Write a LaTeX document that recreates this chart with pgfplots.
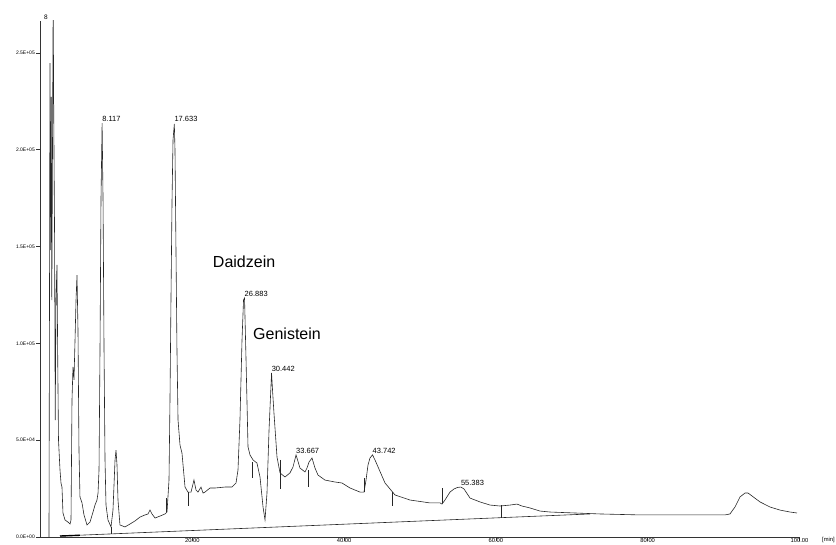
\documentclass[border=0pt]{standalone}
\usepackage{fontspec}
\setmainfont{Liberation Sans}
\usepackage{pgfplots}
\pgfplotsset{compat=1.18}
\begin{document}
\begin{tikzpicture}[x=1pt,y=1pt]
\begin{axis}[
  at={(40.5pt,7pt)}, anchor=south west,
  scale only axis, width=759pt, height=516pt,
  xmin=0, xmax=100, ymin=0, ymax=266500,
  axis lines=left, axis line style={-, black!80, line width=0.7pt},
  clip=true,
  xtick={20,40,60,80,100},
  xticklabels={20.00,40.00,60.00,80.00,100.00},
  ytick={0,50000,100000,150000,200000,250000},
  yticklabels={0.0E+00,5.0E+04,1.0E+05,1.5E+05,2.0E+05,2.5E+05},
  scaled y ticks=false, scaled x ticks=false,
  tick align=outside, major tick length=4pt,
  tick style={black!80, line width=0.6pt},
  yticklabel style={font=\fontsize{5}{6}\selectfont, inner sep=1.5pt},
  xticklabel style={font=\fontsize{5.8}{6}\selectfont, inner sep=0pt, yshift=2.6pt},
  unbounded coords=jump,
]
% chromatogram trace
\addplot[black!85, line width=0.6pt] coordinates {
(1.12,0) (1.25,244800) (1.34,148200) (1.42,227300) (1.49,122400) (1.58,199900)
(1.67,277400) (1.75,214900) (1.85,158600) (1.94,60400) (2.04,122400) (2.17,140500)
(2.28,87300) (2.37,50100) (2.57,34600) (2.70,27900) (2.83,25800) (2.96,12400)
(3.23,8800) (3.62,7700) (3.89,6700) (4.02,8800) (4.15,70800) (4.28,87800)
(4.41,81100) (4.55,101800) (4.68,122400) (4.81,135300) (4.94,106900) (5.07,44900)
(5.20,20700) (5.47,17600) (5.73,11400) (6.13,6200) (6.52,7700) (6.92,12900)
(7.18,16500) (7.44,19100) (7.58,22700) (7.71,34600) (7.84,96600) (7.97,174100)
(8.117,213800) (8.24,174100) (8.37,96600) (8.50,39800) (8.63,16500) (8.89,8800)
(9.29,5200) (9.55,13900) (9.82,39800) (9.95,44900) (10.08,37200) (10.21,19100)
(10.47,6200) (11.13,5200) (11.79,6700) (12.45,8300) (13.11,10300) (13.77,11400)
(14.16,11900) (14.43,13900) (14.69,11900) (15.09,9800) (15.74,10800) (16.40,11900)
(16.67,12900) (16.93,29400) (17.06,70800) (17.19,122400) (17.33,174100) (17.46,205100)
(17.633,213300) (17.72,199900) (17.85,148200) (17.98,96600) (18.12,60400) (18.38,47500)
(18.64,43400) (19.04,25800) (19.43,23200) (19.83,23200) (20.22,29400) (20.49,24300)
(20.75,23200) (21.15,25800) (21.41,22700) (21.67,23200) (22.33,25300) (22.99,25300)
(24.31,25800) (25.23,25800) (25.76,27900) (26.02,34600) (26.28,60400) (26.55,101800)
(26.75,122400) (26.883,123400) (27.08,91400) (27.34,46500) (27.60,42400) (28.00,39800)
(28.52,38200) (28.92,31000) (29.32,15500) (29.58,8800) (29.84,22700) (30.11,55300)
(30.442,84700) (30.57,75900) (30.76,64000) (31.16,41300) (31.56,33100) (32.21,31000)
(32.87,33100) (33.27,36200) (33.667,42400) (34.19,35600) (34.85,33600) (35.11,35600)
(35.38,38700) (35.77,40800) (36.17,35600) (36.56,32000) (37.48,29400) (38.80,28400)
(39.72,27900) (40.78,25300) (42.10,23200) (42.62,23200) (42.89,29400) (43.15,37200)
(43.41,40800) (43.742,42400) (44.07,39800) (44.47,36200) (45.39,27900) (46.71,21700)
(48.68,19100) (51.32,17600) (52.64,17600) (52.90,17000) (53.29,19100) (53.95,23200)
(54.48,24800) (54.94,25600) (55.383,25800) (55.80,24800) (56.59,20100) (57.91,18100)
(59.22,16500) (60.54,16000) (61.86,16500) (62.78,17000) (63.44,16000) (64.49,15000)
(65.81,13400) (67.13,12900) (70.42,12400) (73.72,11900) (78.99,11400) (86.89,11400)
(90.18,11400) (90.84,11900) (91.50,15500) (92.16,20700) (92.82,22700) (93.22,22700)
(93.74,21200) (94.80,18100) (96.11,15500) (97.43,13900) (98.75,12900) (99.67,12400)
};
% integration baseline
\addplot[black!85, line width=0.6pt] coordinates {(2.57,500) (72.4,11900)};
\addplot[black, line width=1.4pt] coordinates {(2.57,500) (5.2,900)};
% peak start/end markers
\addplot[black!85, line width=0.6pt] coordinates {
(9.29,1600) (9.29,5200) (9.29,nan)
(16.53,20100) (16.53,12900) (16.53,nan)
(19.43,23200) (19.43,16000) (19.43,nan)
(27.87,38700) (27.87,30500) (27.87,nan)
(31.56,39800) (31.56,24800) (31.56,nan)
(35.24,34600) (35.24,25800) (35.24,nan)
(42.62,30500) (42.62,23200) (42.62,nan)
(46.31,23200) (46.31,16000) (46.31,nan)
(52.90,25300) (52.90,17600) (52.90,nan)
(60.67,16500) (60.67,9900)
};
% peak labels
\begin{scope}[every node/.style={font=\fontsize{7.5}{8}\selectfont, inner sep=0pt, anchor=south west}]
\node at (axis cs:8.117,214500) {8.117};
\node at (axis cs:17.633,214500) {17.633};
\node at (axis cs:26.883,124000) {26.883};
\node at (axis cs:30.442,85200) {30.442};
\node at (axis cs:33.667,43000) {33.667};
\node at (axis cs:43.742,43000) {43.742};
\node at (axis cs:55.383,26300) {55.383};
\end{scope}
\node[font=\fontsize{16}{18}\selectfont, anchor=base west, inner sep=0pt] at (axis cs:22.7,139400) {Daidzein};
\node[font=\fontsize{16}{18}\selectfont, anchor=base west, inner sep=0pt] at (axis cs:28.0,102200) {Genistein};
\end{axis}
\node[font=\fontsize{5.8}{6}\selectfont, anchor=west, inner sep=0pt] at (822pt,3.5pt) {[min]};
\node[font=\fontsize{6.5}{7}\selectfont, anchor=center, inner sep=0pt] at (46pt,527pt) {8};
\pgfresetboundingbox
\path[use as bounding box] (0,0) rectangle (836pt,544pt);
\end{tikzpicture}
\end{document}
